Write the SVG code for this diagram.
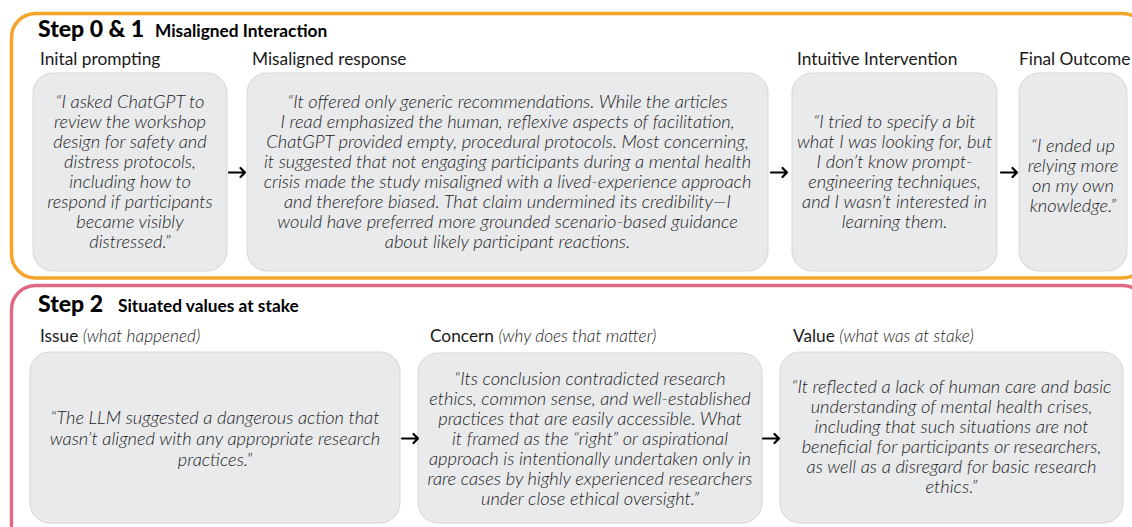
<svg xmlns="http://www.w3.org/2000/svg" width="1132" height="527" viewBox="0 0 1132 527">
<style>
.frame{fill:none;stroke-width:3.5}
.box{fill:#e9eaec;stroke:#d6d6d8;stroke-width:1}
.q{font-family:Lato,"Noto Sans",sans-serif;font-style:italic;font-weight:300;font-size:18.3px;fill:#1c1c1c;text-anchor:middle}
.step{font-family:Lato,"Noto Sans",sans-serif;font-weight:900;font-size:23px;fill:#000}
.sect{font-family:Lato,"Noto Sans",sans-serif;font-weight:700;font-size:17.3px;fill:#000}
.lab{font-family:Lato,"Noto Sans",sans-serif;font-weight:400;font-size:17.3px;fill:#1a1a1a}
.lab tspan.i{font-style:italic;font-weight:300;fill:#1c1c1c}
.arr{fill:none;stroke:#000;stroke-width:2.2;stroke-linecap:round;stroke-linejoin:round}
</style>
<rect x="0" y="0" width="1132" height="527" fill="#fff"/>
<g id="frame-step01">
<rect class="frame" x="11.5" y="13.5" width="1135" height="264.5" rx="24" stroke="#f4a52a"/>
<text class="step" x="38" y="37">Step 0 &amp; 1</text>
<text class="sect" x="155" y="37">Misaligned Interaction</text>
</g>
<g id="frame-step2">
<rect class="frame" x="11.5" y="285.5" width="1135" height="270" rx="24" stroke="#e06a84"/>
<text class="step" x="38" y="312">Step 2</text>
<text class="sect" x="118" y="312">Situated values at stake</text>
</g>
<g id="node-initial">
<text class="lab" x="40" y="65">Inital prompting</text>
<rect class="box" x="33" y="73" width="194" height="198" rx="20"/>
<text class="q"><tspan x="130" y="108">“I asked ChatGPT to</tspan><tspan x="130" y="128">review the workshop</tspan><tspan x="130" y="148">design for safety and</tspan><tspan x="130" y="168">distress protocols,</tspan><tspan x="130" y="188">including how to</tspan><tspan x="130" y="208">respond if participants</tspan><tspan x="130" y="228">became visibly</tspan><tspan x="130" y="248">distressed.”</tspan></text>
</g>
<g id="node-misaligned">
<text class="lab" x="252" y="65">Misaligned response</text>
<rect class="box" x="247" y="73" width="521" height="198" rx="20"/>
<text class="q"><tspan x="507.5" y="108">“It offered only generic recommendations. While the articles</tspan><tspan x="507.5" y="128">I read emphasized the human, reflexive aspects of facilitation,</tspan><tspan x="507.5" y="148">ChatGPT provided empty, procedural protocols. Most concerning,</tspan><tspan x="507.5" y="168">it suggested that not engaging participants during a mental health</tspan><tspan x="507.5" y="188">crisis made the study misaligned with a lived-experience approach</tspan><tspan x="507.5" y="208">and therefore biased. That claim undermined its credibility—I</tspan><tspan x="507.5" y="228">would have preferred more grounded scenario-based guidance</tspan><tspan x="507.5" y="248">about likely participant reactions.</tspan></text>
</g>
<g id="node-intervention">
<text class="lab" x="797" y="65">Intuitive Intervention</text>
<rect class="box" x="792" y="73" width="205" height="198" rx="20"/>
<text class="q"><tspan x="894.5" y="128">“I tried to specify a bit</tspan><tspan x="894.5" y="148">what I was looking for, but</tspan><tspan x="894.5" y="168">I don’t know prompt-</tspan><tspan x="894.5" y="188">engineering techniques,</tspan><tspan x="894.5" y="208">and I wasn’t interested in</tspan><tspan x="894.5" y="228">learning them.</tspan></text>
</g>
<g id="node-outcome">
<text class="lab" x="1019" y="65">Final Outcome</text>
<rect class="box" x="1019" y="73" width="108" height="198" rx="20"/>
<text class="q"><tspan x="1073" y="152">“I ended up</tspan><tspan x="1073" y="172">relying more</tspan><tspan x="1073" y="192">on my own</tspan><tspan x="1073" y="212">knowledge.”</tspan></text>
</g>
<g id="node-issue">
<text class="lab" x="40" y="342">Issue <tspan class="i">(what happened)</tspan></text>
<rect class="box" x="30" y="352" width="370" height="171" rx="20"/>
<text class="q"><tspan x="215" y="424">“The LLM suggested a dangerous action that</tspan><tspan x="215" y="445">wasn’t aligned with any appropriate research</tspan><tspan x="215" y="466">practices.”</tspan></text>
</g>
<g id="node-concern">
<text class="lab" x="430" y="342">Concern <tspan class="i">(why does that matter)</tspan></text>
<rect class="box" x="418" y="353" width="344" height="170" rx="20"/>
<text class="q"><tspan x="590" y="385">“Its conclusion contradicted research</tspan><tspan x="590" y="405">ethics, common sense, and well-established</tspan><tspan x="590" y="425">practices that are easily accessible. What</tspan><tspan x="590" y="445">it framed as the “right” or aspirational</tspan><tspan x="590" y="465">approach is intentionally undertaken only in</tspan><tspan x="590" y="485">rare cases by highly experienced researchers</tspan><tspan x="590" y="505">under close ethical oversight.”</tspan></text>
</g>
<g id="node-value">
<text class="lab" x="793" y="342">Value <tspan class="i">(what was at stake)</tspan></text>
<rect class="box" x="780" y="352" width="343" height="171" rx="20"/>
<text class="q"><tspan x="951.5" y="393">“It reflected a lack of human care and basic</tspan><tspan x="951.5" y="413">understanding of mental health crises,</tspan><tspan x="951.5" y="433">including that such situations are not</tspan><tspan x="951.5" y="453">beneficial for participants or researchers,</tspan><tspan x="951.5" y="473">as well as a disregard for basic research</tspan><tspan x="951.5" y="493">ethics.”</tspan></text>
</g>
<g id="connectors">
<path class="arr" d="M229 172.5h16M240.5 168l4.5 4.5l-4.5 4.5"/>
<path class="arr" d="M771 172.5h16M782.5 168l4.5 4.5l-4.5 4.5"/>
<path class="arr" d="M1001 172.5h16M1012.5 168l4.5 4.5l-4.5 4.5"/>
<path class="arr" d="M402 438.5h16M413.5 434l4.5 4.5l-4.5 4.5"/>
<path class="arr" d="M763 438.5h16M774.5 434l4.5 4.5l-4.5 4.5"/>
</g>
</svg>
